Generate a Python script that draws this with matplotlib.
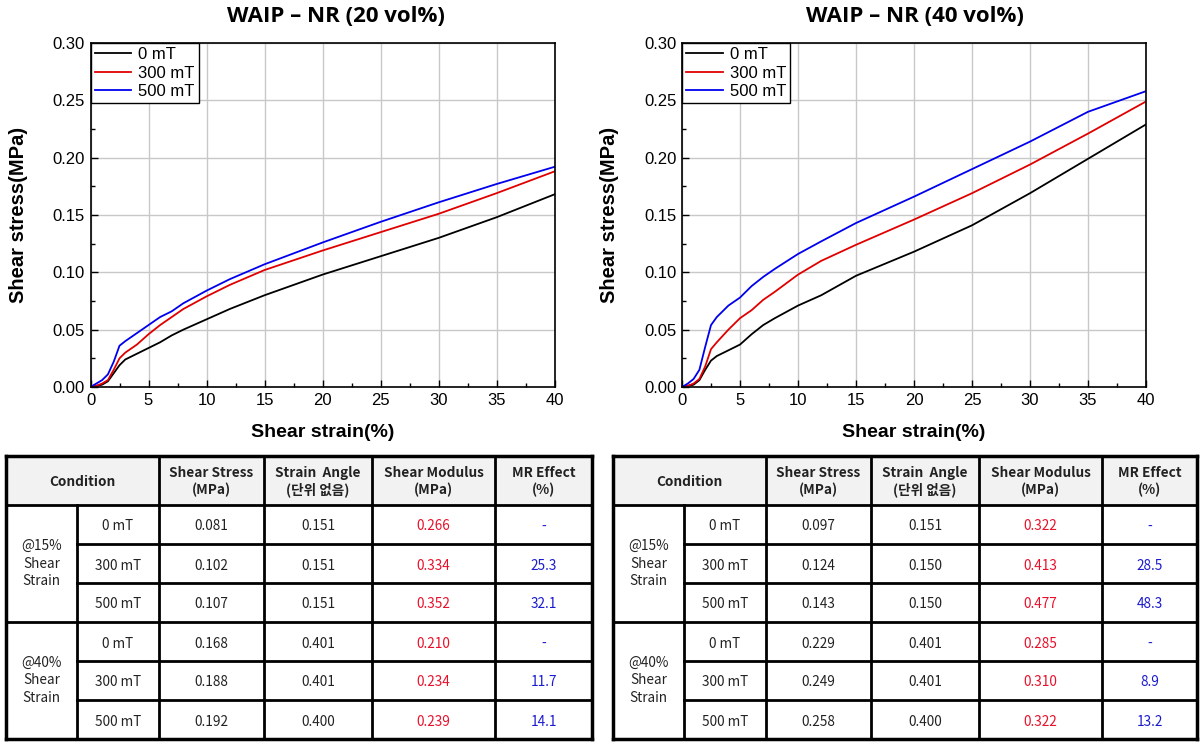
import matplotlib.pyplot as plt
from matplotlib.patches import Rectangle

# strain points (%)
strain = [0, 0.5, 1, 1.5, 2, 2.5, 3, 4, 5, 6, 7, 8, 10, 12, 15, 20, 25, 30, 35, 40]

# WAIP - NR (20 vol%)
s20_0 = [0, 0.001, 0.002, 0.005, 0.012, 0.019, 0.024, 0.029, 0.034, 0.039, 0.045, 0.050,
         0.059, 0.068, 0.080, 0.098, 0.114, 0.130, 0.148, 0.168]
s20_300 = [0, 0.001, 0.003, 0.006, 0.015, 0.025, 0.030, 0.037, 0.046, 0.054, 0.061, 0.068,
           0.079, 0.089, 0.102, 0.119, 0.135, 0.151, 0.169, 0.188]
s20_500 = [0, 0.003, 0.006, 0.011, 0.022, 0.036, 0.040, 0.047, 0.054, 0.061, 0.066, 0.073,
           0.084, 0.094, 0.107, 0.126, 0.144, 0.161, 0.177, 0.192]

# WAIP - NR (40 vol%)
s40_0 = [0, 0.001, 0.002, 0.006, 0.015, 0.023, 0.027, 0.032, 0.037, 0.046, 0.054, 0.060,
         0.071, 0.080, 0.097, 0.118, 0.141, 0.169, 0.199, 0.229]
s40_300 = [0, 0.001, 0.003, 0.007, 0.018, 0.033, 0.039, 0.050, 0.060, 0.067, 0.076, 0.083,
           0.098, 0.110, 0.124, 0.146, 0.169, 0.194, 0.221, 0.249]
s40_500 = [0, 0.003, 0.007, 0.015, 0.035, 0.054, 0.061, 0.071, 0.078, 0.088, 0.096, 0.103,
           0.116, 0.127, 0.143, 0.166, 0.190, 0.214, 0.240, 0.258]

labels = ['0 mT', '300 mT', '500 mT']
colors = ['black', '#e00000', '#0000ee']

# table contents
header = ['Condition', 'Shear Stress\n(MPa)', 'Strain  Angle\n(단위 없음)',
          'Shear Modulus\n(MPa)', 'MR Effect\n(%)']
groups = ['@15%\nShear\nStrain', '@40%\nShear\nStrain']
fields = ['0 mT', '300 mT', '500 mT', '0 mT', '300 mT', '500 mT']

stress_20 = ['0.081', '0.102', '0.107', '0.168', '0.188', '0.192']
angle_20 = ['0.151', '0.151', '0.151', '0.401', '0.401', '0.400']
modulus_20 = ['0.266', '0.334', '0.352', '0.210', '0.234', '0.239']
mr_20 = ['-', '25.3', '32.1', '-', '11.7', '14.1']

stress_40 = ['0.097', '0.124', '0.143', '0.229', '0.249', '0.258']
angle_40 = ['0.151', '0.150', '0.150', '0.401', '0.401', '0.400']
modulus_40 = ['0.322', '0.413', '0.477', '0.285', '0.310', '0.322']
mr_40 = ['-', '28.5', '48.3', '-', '8.9', '13.2']

W, H = 1204, 743
fig = plt.figure(figsize=(W / 100, H / 100), dpi=100)
fig.patch.set_facecolor('white')

tick_font = 'Liberation Sans'


def chart(left_px, title, title_x, series):
    ax = fig.add_axes([left_px / W, 1 - 387 / H, 464 / W, 344 / H])
    for ys, lab, c in zip(series, labels, colors):
        ax.plot(strain, ys, color=c, lw=1.3, label=lab)
    ax.set_xlim(0, 40)
    ax.set_ylim(0, 0.30)
    ax.set_xticks(range(0, 41, 5))
    ax.set_xticks([x + 2.5 for x in range(0, 40, 5)], minor=True)
    ax.set_yticks([i * 0.05 for i in range(7)])
    ax.set_yticks([0.025 + i * 0.05 for i in range(6)], minor=True)
    ax.set_yticklabels([f'{i * 0.05:.2f}' for i in range(7)])
    ax.tick_params(which='both', direction='in', top=False, right=False)
    ax.tick_params(which='major', length=5, width=1, labelsize=12, pad=4)
    ax.tick_params(which='minor', length=3, width=1)
    for t in ax.get_xticklabels() + ax.get_yticklabels():
        t.set_family(tick_font)
    ax.grid(True, which='major', color='#c8c8c8', lw=1)
    for sp in ax.spines.values():
        sp.set_linewidth(1.2)
    ax.set_xlabel('Shear strain(%)', fontsize=14, fontweight='bold', family=tick_font, labelpad=12)
    ax.set_ylabel('Shear stress(MPa)', fontsize=14.5, fontweight='bold', family=tick_font, labelpad=18)
    leg = ax.legend(loc='upper left', borderaxespad=0, fancybox=False, framealpha=1,
                    edgecolor='black', handlelength=2.2, labelspacing=0.2, borderpad=0.25,
                    handletextpad=0.4, prop={'family': tick_font, 'size': 12})
    leg.get_frame().set_linewidth(1)
    fig.text(title_x / W, 1 - 16 / H, title, ha='center', va='center',
             fontsize=16, fontweight='bold', family='Open Sans')
    return ax


chart(90.5, 'WAIP – NR (20 vol%)', 336, [s20_0, s20_300, s20_500])
chart(682, 'WAIP – NR (40 vol%)', 915, [s40_0, s40_300, s40_500])

# tables drawn in pixel coordinates
tab = fig.add_axes([0, 0, 1, 1])
tab.set_xlim(0, W)
tab.set_ylim(H, 0)
tab.axis('off')

row_edges = [456, 505, 544, 583, 622, 661, 700, 739]
cjk = ['Noto Sans CJK KR', 'DejaVu Sans']
fs = 9.8
dy = 2  # small downward nudge of cell text


def table(cols, stress, angle, modulus, mr):
    x0, x1 = cols[0], cols[-1]
    y0, y1 = row_edges[0], row_edges[-1]
    tab.add_patch(Rectangle((x0, y0), x1 - x0, row_edges[1] - y0, facecolor='#f2f2f2', edgecolor='none'))
    # header
    tab.text((cols[0] + cols[2]) / 2, (row_edges[0] + row_edges[1]) / 2 + dy, header[0],
             ha='center', va='center', fontsize=fs, fontweight='bold', family=cjk, color='#222222')
    for j, h in enumerate(header[1:]):
        tab.text((cols[j + 2] + cols[j + 3]) / 2, (row_edges[0] + row_edges[1]) / 2 + 1, h,
                 ha='center', va='center', fontsize=fs, fontweight='bold', family=cjk,
                 linespacing=1.25, color='#222222')
    # group labels
    for g, lab in enumerate(groups):
        yc = (row_edges[1 + 3 * g] + row_edges[4 + 3 * g]) / 2
        tab.text((cols[0] + cols[1]) / 2, yc, lab, ha='center', va='center',
                 fontsize=fs, family=cjk, linespacing=1.3, color='#222222')
    for i in range(6):
        yc = (row_edges[i + 1] + row_edges[i + 2]) / 2 + dy
        vals = [fields[i], stress[i], angle[i], modulus[i], mr[i]]
        cs = ['#222222', '#222222', '#222222', '#e8102a', '#1a1ad0']
        wts = ['normal', 'normal', 'normal', 'medium', 'medium']
        for j, (v, c, w) in enumerate(zip(vals, cs, wts)):
            tab.text((cols[j + 1] + cols[j + 2]) / 2, yc, v, ha='center', va='center',
                     fontsize=fs, family=cjk, color=c, fontweight=w)
    # lines
    lw = 2.0
    for k, y in enumerate(row_edges):
        if k in (0, 1, 4, 7):
            tab.plot([x0, x1], [y, y], color='black', lw=lw if k in (1, 4) else 2.5,
                     solid_capstyle='projecting')
        else:
            tab.plot([cols[1], x1], [y, y], color='black', lw=lw)
    for k, x in enumerate(cols):
        if k == 1:
            tab.plot([x, x], [row_edges[1], y1], color='black', lw=lw)
        else:
            tab.plot([x, x], [y0, y1], color='black', lw=2.5 if k in (0, len(cols) - 1) else lw,
                     solid_capstyle='projecting')


table([6, 77, 159, 264, 372, 495, 592], stress_20, angle_20, modulus_20, mr_20)
table([613, 684, 766, 871, 979, 1102, 1197], stress_40, angle_40, modulus_40, mr_40)

fig.savefig('out.png', dpi=100)
